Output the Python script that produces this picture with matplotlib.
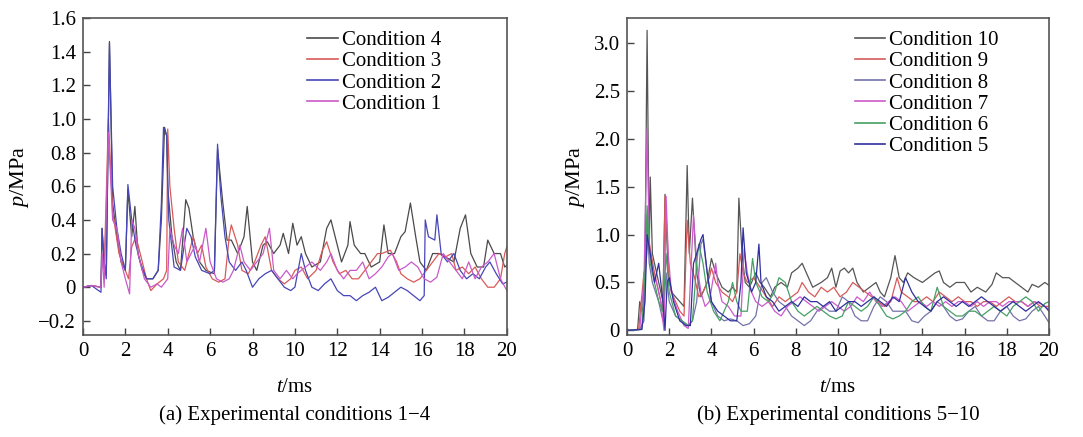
import matplotlib
matplotlib.use("Agg")
import matplotlib.pyplot as plt

plt.rcParams["font.family"] = ["Liberation Serif", "DejaVu Serif"]
plt.rcParams["mathtext.fontset"] = "custom"
plt.rcParams["mathtext.rm"] = "Liberation Serif"
plt.rcParams["mathtext.it"] = "Liberation Serif:italic"

# ---- (a) conditions 1-4 : t [ms], p [MPa] ----
t_c4 = [0, 0.4, 0.85, 0.9, 1.0, 1.1, 1.25, 1.4, 1.6, 1.8, 2.0, 2.12, 2.3, 2.45, 2.6, 2.8, 3.0, 3.3,
        3.55, 3.7, 3.85, 3.95, 4.0, 4.2, 4.4, 4.6, 4.85, 5.0, 5.2, 5.5, 5.8, 6.2, 6.35, 6.6, 6.8,
        7.0, 7.3, 7.6, 7.75, 8.0, 8.2, 8.5, 8.7, 9.0, 9.3, 9.45, 9.7, 9.9, 10.1, 10.3, 10.5, 10.8,
        11.2, 11.5, 11.7, 11.9, 12.2, 12.5, 12.6, 12.8, 13.1, 13.3, 13.6, 14.0, 14.2, 14.4, 14.7,
        15.0, 15.2, 15.45, 15.7, 15.9, 16.2, 16.5, 16.8, 17.1, 17.5, 17.8, 18.05, 18.3, 18.6, 18.9,
        19.1, 19.4, 19.7, 19.9, 20]
p_c4 = [0, 0.01, 0, 0.35, 0.15, 0.08, 1.46, 0.5, 0.3, 0.15, 0.1, 0.58, 0.3, 0.48, 0.2, 0.1, 0.05, 0.05,
        0.1, 0.4, 0.95, 0.9, 0.59, 0.3, 0.15, 0.1, 0.52, 0.47, 0.3, 0.15, 0.1, 0.08, 0.82, 0.5, 0.28,
        0.28, 0.2, 0.3, 0.48, 0.15, 0.1, 0.25, 0.27, 0.2, 0.25, 0.32, 0.2, 0.38, 0.25, 0.3, 0.2, 0.12,
        0.15, 0.35, 0.4, 0.3, 0.15, 0.25, 0.39, 0.25, 0.2, 0.2, 0.12, 0.15, 0.37, 0.2, 0.2,
        0.3, 0.33, 0.5, 0.3, 0.15, 0.1, 0.2, 0.2, 0.18, 0.15, 0.35, 0.43, 0.2, 0.12, 0.12,
        0.28, 0.2, 0.2, 0.12, 0.13]

t_c3 = [0, 0.4, 0.85, 0.9, 1.0, 1.2, 1.4, 1.7, 2.0, 2.15, 2.3, 2.5, 2.7, 3.0, 3.2, 3.5, 3.8, 3.95,
        4.0, 4.1, 4.3, 4.5, 4.8, 5.0, 5.2, 5.4, 5.6, 5.8, 6.1, 6.4, 6.7, 6.9, 7.0, 7.3, 7.5, 7.8,
        8.1, 8.4, 8.6, 8.9, 9.2, 9.5, 9.8, 10.0, 10.3, 10.6, 11.0, 11.3, 11.5, 11.8, 12.1, 12.4,
        12.7, 13.0, 13.3, 13.6, 13.9, 14.1, 14.5, 14.8, 15.0, 15.3, 15.6, 15.9, 16.2, 16.5, 16.8,
        17.1, 17.4, 17.6, 17.9, 18.2, 18.5, 18.8, 19.1, 19.4, 19.7, 19.9, 20]
p_c3 = [0, 0.01, 0, 0.2, 0.1, 1.0, 0.45, 0.2, 0.1, 0.05, 0.24, 0.3, 0.2, 0.05, -0.02, 0.02, 0.05, 0.1,
        0.94, 0.6, 0.35, 0.15, 0.1, 0.2, 0.3, 0.2, 0.25, 0.12, 0.05, 0.03, 0.05, 0.3, 0.37, 0.25, 0.1, 0.08,
        0.15, 0.25, 0.3, 0.1, 0.05, 0.02, 0.05, 0.1, 0.12, 0.05, 0.1, 0.22, 0.27, 0.15, 0.08, 0.1,
        0.05, 0.05, 0.1, 0.15, 0.2, 0.2, 0.22, 0.15, 0.08, 0.05, 0.03, 0.05, 0.1, 0.15, 0.2,
        0.18, 0.2, 0.1, 0.12, 0.08, 0.12, 0.05, 0.0, 0.0, 0.05, 0.2, 0.24]

t_c2 = [0, 0.4, 0.85, 0.9, 1.0, 1.1, 1.25, 1.4, 1.6, 1.8, 2.0, 2.12, 2.3, 2.5, 2.7, 3.0, 3.3, 3.55,
        3.7, 3.8, 3.95, 4.05, 4.3, 4.6, 4.9, 5.1, 5.3, 5.6, 6.0, 6.2, 6.35, 6.5, 6.7, 6.9, 7.2, 7.5,
        7.7, 8.0, 8.3, 8.6, 8.9, 9.2, 9.5, 9.8, 10.0, 10.3, 10.5, 10.8, 11.1, 11.4, 11.7, 12.0, 12.3,
        12.6, 12.9, 13.2, 13.5, 13.8, 14.1, 14.4, 14.7, 15.0, 15.3, 15.6, 15.9, 16.1, 16.15, 16.3,
        16.6, 16.7, 16.9, 17.2, 17.5, 17.8, 18.1, 18.4, 18.7, 19.0, 19.2, 19.5, 19.8, 20]
p_c2 = [0, 0.01, -0.03, 0.35, 0.15, 0.05, 1.45, 0.6, 0.35, 0.2, 0.1, 0.61, 0.4, 0.25, 0.15, 0.05, 0.05, 0.1,
        0.5, 0.95, 0.9, 0.4, 0.12, 0.1, 0.35, 0.3, 0.18, 0.1, 0.08, 0.1, 0.85, 0.55, 0.3, 0.15, 0.1, 0.15,
        0.1, 0.0, 0.05, 0.08, 0.1, 0.05, 0.0, -0.02, 0.0, 0.2, 0.1, 0.0, -0.02, 0.02, 0.05, -0.02, -0.05,
        -0.05, -0.08, -0.05, -0.03, 0.0, -0.08, -0.06, -0.03, 0.0, -0.02, -0.05, -0.08, -0.05, 0.4, 0.3,
        0.28, 0.43, 0.2, 0.15, 0.2, 0.1, 0.05, 0.08, 0.05, 0.12, 0.15, 0.08, 0.02, 0.03]

t_c1 = [0, 0.4, 0.85, 0.9, 1.0, 1.2, 1.4, 1.6, 1.8, 2.0, 2.2, 2.3, 2.45, 2.6, 2.9, 3.2, 3.5, 3.7,
        4.0, 4.1, 4.3, 4.5, 4.7, 4.9, 5.3, 5.5, 5.8, 6.0, 6.3, 6.6, 6.9, 7.1, 7.4, 7.6, 7.9, 8.2,
        8.5, 8.8, 9.0, 9.3, 9.6, 9.9, 10.1, 10.5, 10.8, 11.2, 11.5, 11.7, 12.0, 12.3, 12.6, 12.9,
        13.2, 13.5, 13.8, 14.1, 14.4, 14.6, 14.9, 15.2, 15.5, 15.8, 16.1, 16.4, 16.7, 17.0, 17.3,
        17.6, 17.9, 18.2, 18.5, 18.8, 19.1, 19.4, 19.7, 20]
p_c1 = [0, 0.01, 0, 0.2, 0.0, 0.92, 0.4, 0.35, 0.15, 0.05, -0.04, 0.4, 0.35, 0.2, 0.05, 0.0, 0.02, 0.0,
        0.05, 0.35, 0.25, 0.2, 0.35, 0.15, 0.25, 0.15, 0.35, 0.15, 0.05, 0.03, 0.05, 0.1, 0.25, 0.15, 0.1, 0.15,
        0.2, 0.35, 0.1, 0.05, 0.1, 0.05, 0.08, 0.12, 0.15, 0.1, 0.15, 0.2, 0.1, 0.05, 0.1, 0.1,
        0.15, 0.05, 0.08, 0.12, 0.18, 0.2, 0.1, 0.12, 0.15, 0.12, 0.05, 0.03, 0.06, 0.2, 0.15,
        0.1, 0.05, 0.15, 0.05, 0.12, 0.15, 0.2, 0.05, -0.02]

# ---- (b) conditions 5-10 ----
t_c10 = [0, 0.5, 0.6, 0.75, 0.85, 0.95, 1.05, 1.1, 1.2, 1.4, 1.6, 1.7, 1.8, 1.95, 2.1, 2.3, 2.5, 2.7,
         2.85, 2.95, 3.1, 3.3, 3.5, 3.8, 4.0, 4.2, 4.5, 4.8, 5.0, 5.2, 5.3, 5.45, 5.6, 5.8, 6.1, 6.3,
         6.5, 6.8, 7.0, 7.3, 7.6, 7.8, 8.1, 8.3, 8.5, 8.8, 9.2, 9.5, 9.7, 9.9, 10.1, 10.3, 10.5, 10.7,
         10.9, 11.2, 11.5, 11.8, 12.0, 12.2, 12.5, 12.7, 12.9, 13.1, 13.3, 13.6, 14.0, 14.3, 14.6,
         14.8, 15.0, 15.3, 15.6, 16.0, 16.3, 16.6, 17.0, 17.3, 17.5, 17.8, 18.1, 18.4, 18.7, 19.0,
         19.2, 19.5, 19.8, 20]
p_c10 = [0, 0.01, 0.3, 0.2, 0.7, 3.13, 0.8, 1.6, 0.8, 0.6, 0.4, 0.3, 1.42, 0.6, 0.4, 0.35, 0.3, 0.25,
         1.72, 0.8, 1.38, 0.6, 0.35, 0.5, 0.75, 0.6, 0.45, 0.4, 0.45, 0.4, 1.38, 0.8, 0.5, 0.45, 0.6, 0.5,
         0.45, 0.35, 0.45, 0.5, 0.45, 0.6, 0.65, 0.7, 0.6, 0.45, 0.5, 0.55, 0.65, 0.45, 0.62, 0.65, 0.6, 0.65,
         0.5, 0.4, 0.45, 0.5, 0.4, 0.35, 0.55, 0.78, 0.55, 0.5, 0.6, 0.55, 0.5, 0.55, 0.6,
         0.62, 0.5, 0.45, 0.5, 0.5, 0.4, 0.45, 0.4, 0.48, 0.6, 0.55, 0.55, 0.5, 0.45, 0.4,
         0.48, 0.45, 0.5, 0.47]

t_c9 = [0, 0.55, 0.8, 0.9, 1.0, 1.1, 1.3, 1.5, 1.7, 1.8, 1.9, 2.0, 2.2, 2.5, 2.7, 2.85, 3.0, 3.2,
        3.4, 3.6, 3.9, 4.0, 4.2, 4.5, 4.8, 5.0, 5.2, 5.35, 5.5, 5.7, 6.0, 6.3, 6.6, 6.9, 7.2, 7.5,
        7.8, 8.1, 8.3, 8.6, 8.9, 9.2, 9.5, 9.8, 10.1, 10.4, 10.7, 11.0, 11.3, 11.6, 11.9, 12.2, 12.5,
        12.8, 13.0, 13.3, 13.6, 13.9, 14.2, 14.5, 14.8, 15.1, 15.4, 15.7, 16.0, 16.3, 16.6, 16.9,
        17.2, 17.5, 17.8, 18.1, 18.4, 18.7, 19.0, 19.3, 19.6, 20]
p_c9 = [0, 0.01, 0.6, 0.7, 1.0, 0.85, 0.6, 0.4, 0.2, 1.4, 1.0, 0.5, 0.35, 0.2, 0.15, 1.15, 0.7, 0.55,
        0.35, 0.4, 0.55, 0.65, 0.5, 0.4, 0.35, 0.3, 0.4, 0.8, 0.6, 0.5, 0.55, 0.45, 0.35, 0.25, 0.35, 0.3,
        0.35, 0.4, 0.5, 0.4, 0.35, 0.45, 0.4, 0.45, 0.35, 0.4, 0.5, 0.45, 0.4, 0.35, 0.3, 0.25, 0.3,
        0.55, 0.4, 0.35, 0.3, 0.3, 0.35, 0.3, 0.4, 0.35, 0.3, 0.35, 0.3, 0.3, 0.25, 0.3,
        0.3, 0.25, 0.3, 0.35, 0.3, 0.3, 0.25, 0.3, 0.25, 0.25]

t_c8 = [0, 0.6, 0.8, 0.95, 1.05, 1.2, 1.5, 1.7, 1.85, 2.0, 2.3, 2.6, 2.9, 3.1, 3.3, 3.5, 3.6, 3.8,
        4.0, 4.3, 4.6, 4.9, 5.2, 5.5, 5.8, 6.1, 6.4, 6.6, 6.9, 7.2, 7.5, 7.8, 8.1, 8.4, 8.7, 9.0,
        9.3, 9.6, 9.9, 10.2, 10.5, 10.8, 11.1, 11.4, 11.7, 12.0, 12.3, 12.6, 12.9, 13.2, 13.5, 13.8,
        14.1, 14.4, 14.7, 15.0, 15.3, 15.6, 15.9, 16.2, 16.5, 16.8, 17.1, 17.4, 17.7, 18.0, 18.3,
        18.6, 18.9, 19.2, 19.5, 19.8, 20]
p_c8 = [0, 0.01, 0.1, 1.2, 0.7, 0.5, 0.3, 0.1, 0.6, 0.3, 0.15, 0.1, 0.05, 0.1, 0.3, 0.9, 0.95, 0.6,
        0.3, 0.15, 0.1, 0.12, 0.1, 0.05, 0.07, 0.15, 0.5, 0.55, 0.4, 0.3, 0.25, 0.15, 0.1, 0.05, 0.1, 0.2,
        0.25, 0.2, 0.2, 0.35, 0.3, 0.15, 0.1, 0.1, 0.25, 0.35, 0.3, 0.2, 0.2, 0.2, 0.1, 0.08,
        0.15, 0.2, 0.3, 0.25, 0.15, 0.1, 0.12, 0.2, 0.25, 0.15, 0.1, 0.1, 0.2, 0.25, 0.15,
        0.1, 0.12, 0.2, 0.25, 0.15, 0.08]

t_c7 = [0, 0.6, 0.8, 0.95, 1.05, 1.2, 1.4, 1.6, 1.75, 1.85, 1.95, 2.1, 2.4, 2.7, 2.9, 3.0, 3.15, 3.3,
        3.5, 3.7, 3.9, 4.2, 4.3, 4.5, 4.8, 5.1, 5.4, 5.55, 5.7, 5.9, 6.1, 6.4, 6.7, 7.0, 7.3, 7.6,
        7.9, 8.2, 8.5, 8.8, 9.1, 9.4, 9.7, 10.0, 10.3, 10.6, 10.9, 11.2, 11.5, 11.8, 12.1, 12.4, 12.7,
        13.0, 13.3, 13.6, 13.9, 14.2, 14.5, 14.8, 15.1, 15.4, 15.7, 16.0, 16.3, 16.6, 16.9, 17.2,
        17.5, 17.8, 18.1, 18.4, 18.7, 19.0, 19.3, 19.6, 20]
p_c7 = [0, 0.01, 0.5, 2.1, 0.9, 0.6, 0.5, 0.3, 0.0, 1.4, 0.8, 0.4, 0.2, 0.05, 0.02, 0.5, 1.2, 0.7,
        0.4, 0.25, 0.3, 0.7, 0.5, 0.3, 0.25, 0.15, 0.15, 0.85, 0.6, 0.4, 0.3, 0.25, 0.3, 0.2, 0.15, 0.25,
        0.3, 0.35, 0.3, 0.25, 0.2, 0.25, 0.3, 0.25, 0.2, 0.25, 0.35, 0.3, 0.4, 0.3, 0.25, 0.3, 0.35,
        0.3, 0.2, 0.25, 0.3, 0.25, 0.3, 0.25, 0.3, 0.25, 0.3, 0.3, 0.25, 0.3, 0.25, 0.3,
        0.3, 0.25, 0.3, 0.3, 0.3, 0.25, 0.3, 0.28, 0.22]

t_c6 = [0, 0.7, 0.85, 0.95, 1.1, 1.3, 1.5, 1.7, 1.85, 2.0, 2.3, 2.6, 2.9, 3.1, 3.3, 3.4, 3.6, 3.8,
        4.1, 4.4, 4.6, 4.8, 5.0, 5.2, 5.4, 5.7, 5.95, 6.1, 6.4, 6.7, 7.0, 7.2, 7.5, 7.8, 8.1, 8.4,
        8.7, 9.0, 9.3, 9.6, 9.9, 10.2, 10.5, 10.8, 11.1, 11.4, 11.7, 12.0, 12.3, 12.6, 12.9, 13.2,
        13.5, 13.8, 14.1, 14.4, 14.7, 15.0, 15.3, 15.6, 15.9, 16.2, 16.5, 16.8, 17.1, 17.4, 17.7,
        18.0, 18.3, 18.6, 18.9, 19.2, 19.5, 19.8, 20]
p_c6 = [0, 0.01, 0.6, 1.3, 0.7, 0.5, 0.3, 0.2, 0.8, 0.4, 0.15, 0.1, 0.05, 0.1, 0.7, 0.9, 0.7, 0.4,
        0.2, 0.1, 0.2, 0.3, 0.5, 0.3, 0.2, 0.2, 0.75, 0.5, 0.35, 0.3, 0.4, 0.55, 0.5, 0.3, 0.2, 0.15,
        0.2, 0.25, 0.2, 0.15, 0.12, 0.15, 0.3, 0.25, 0.2, 0.25, 0.35, 0.25, 0.15, 0.12, 0.15, 0.2,
        0.3, 0.35, 0.25, 0.2, 0.45, 0.25, 0.2, 0.15, 0.15, 0.2, 0.2, 0.15, 0.2, 0.25, 0.2,
        0.15, 0.25, 0.3, 0.35, 0.3, 0.2, 0.28, 0.3]

t_c5 = [0, 0.7, 0.85, 0.95, 1.1, 1.3, 1.5, 1.7, 1.8, 1.9, 2.0, 2.2, 2.5, 2.8, 3.0, 3.15, 3.3, 3.5,
        3.6, 3.8, 4.0, 4.3, 4.6, 4.9, 5.2, 5.4, 5.5, 5.65, 5.9, 6.1, 6.25, 6.35, 6.6, 6.9, 7.2, 7.5,
        7.8, 8.1, 8.4, 8.7, 9.0, 9.3, 9.6, 9.9, 10.2, 10.5, 10.8, 11.1, 11.4, 11.7, 12.0, 12.3, 12.6,
        12.9, 13.2, 13.5, 13.8, 14.1, 14.4, 14.7, 15.0, 15.3, 15.6, 15.9, 16.2, 16.5, 16.8, 17.1,
        17.4, 17.7, 18.0, 18.3, 18.6, 18.9, 19.2, 19.5, 19.8, 20]
p_c5 = [0, 0.01, 0.3, 1.0, 0.8, 0.5, 0.7, 0.3, 0.0, 0.5, 0.55, 0.3, 0.1, 0.05, 0.05, 0.7, 0.8, 0.95,
        1.0, 0.6, 0.3, 0.2, 0.15, 0.1, 0.1, 0.5, 1.07, 0.6, 0.4, 0.5, 0.9, 0.5, 0.35, 0.3, 0.2, 0.25,
        0.3, 0.25, 0.35, 0.3, 0.3, 0.25, 0.3, 0.2, 0.25, 0.3, 0.3, 0.25, 0.3, 0.35, 0.3, 0.25, 0.35,
        0.3, 0.55, 0.4, 0.3, 0.25, 0.2, 0.3, 0.35, 0.3, 0.25, 0.3, 0.25, 0.3, 0.35, 0.3,
        0.25, 0.2, 0.25, 0.3, 0.25, 0.2, 0.25, 0.3, 0.25, 0.2]

series_a = [("Condition 4", t_c4, p_c4, "#4a4a4a"),
            ("Condition 3", t_c3, p_c3, "#d85a58"),
            ("Condition 2", t_c2, p_c2, "#4646b8"),
            ("Condition 1", t_c1, p_c1, "#c85ac8")]
series_b = [("Condition 10", t_c10, p_c10, "#555555"),
            ("Condition 9", t_c9, p_c9, "#d65a5a"),
            ("Condition 8", t_c8, p_c8, "#7373aa"),
            ("Condition 7", t_c7, p_c7, "#cc5acc"),
            ("Condition 6", t_c6, p_c6, "#46a064"),
            ("Condition 5", t_c5, p_c5, "#30309e")]

FS = 15
fig = plt.figure(figsize=(10.83, 4.37), dpi=100)
ax_a = fig.add_axes([0.0766, 0.233, 0.3914, 0.726])
ax_b = fig.add_axes([0.579, 0.233, 0.3896, 0.726])


def style_axes(ax, series, ylim, yticks, ylabels, caption, leg_x):
    for label, t, p, c in series:
        ax.plot(t, p, color=c, lw=0.9, label=label)
    ax.set_xlim(0, 20)
    ax.set_ylim(*ylim)
    ax.set_xticks(range(0, 21, 2))
    ax.set_yticks(yticks)
    ax.set_yticklabels(ylabels)
    ax.tick_params(direction="in", length=5, width=1, labelsize=FS, color="#444", pad=5)
    for s in ax.spines.values():
        s.set_color("#555")
        s.set_linewidth(1.2)
    ax.set_xlabel(r"$\it{t}$/ms", fontsize=FS, labelpad=12)
    ax.set_ylabel(r"$\it{p}$/MPa", fontsize=FS + 1, labelpad=5)
    ax.text(0.5, -0.252, caption, transform=ax.transAxes, ha="center", va="center", fontsize=FS)
    leg = ax.legend(loc="upper left", bbox_to_anchor=(leg_x, 1.0), frameon=False, fontsize=FS,
                    handlelength=1.45, handletextpad=0.2, labelspacing=0.08, borderpad=0.1)
    for h in leg.get_lines():
        h.set_linewidth(1.2)


style_axes(ax_a, series_a, (-0.285, 1.6), [-0.2, 0, 0.2, 0.4, 0.6, 0.8, 1.0, 1.2, 1.4, 1.6],
           ["\u22120.2", "0", "0.2", "0.4", "0.6", "0.8", "1.0", "1.2", "1.4", "1.6"],
           "(a) Experimental conditions 1\u22124", 0.50)
style_axes(ax_b, series_b, (-0.05, 3.26), [0, 0.5, 1.0, 1.5, 2.0, 2.5, 3.0],
           ["0", "0.5", "1.0", "1.5", "2.0", "2.5", "3.0"],
           "(b) Experimental conditions 5\u221210", 0.51)

fig.savefig("out.png", dpi=100)
